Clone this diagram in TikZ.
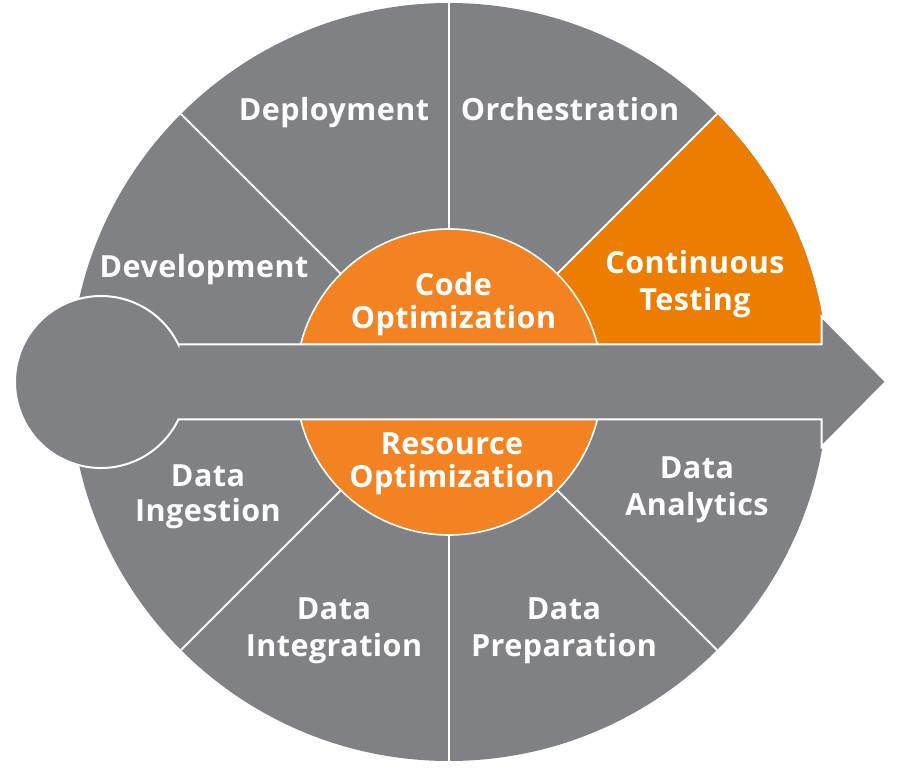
\documentclass[tikz,border=0pt]{standalone}
\usepackage{fontspec}
\setmainfont{Open Sans}[LetterSpace=1.5]
\definecolor{cgray}{HTML}{808184}
\definecolor{corange}{HTML}{F28222}
\definecolor{csector}{HTML}{ED7D00}
\newcommand\lst{\rule[-8pt]{0pt}{31pt}}
\begin{document}
\begin{tikzpicture}[x=1pt,y=1pt,
  lbl/.style={text=white, font=\fontsize{30.5}{#1}\selectfont\bfseries, align=center, inner sep=0pt},
  lbl/.default=36,
  divider/.style={white, line width=2pt},
  outl/.style={draw=white, line width=2pt}]
\useasboundingbox (-449,-394) rectangle (451,382);
% big wheel
\fill[cgray] (0,0) circle[radius=379];
% highlighted sector
\fill[csector] (0,0) -- (0:379) arc[start angle=0,end angle=45,radius=379] -- cycle;
% sector dividers
\foreach \a in {45,90,135,225,270,315} \draw[divider] (0,0) -- (\a:379);
% inner hub
\fill[corange, outl, line width=1.6pt] (0,0) circle[radius=153];
% arrow
\coordinate (tail) at (-348,0);
\fill[cgray, outl] (-270.6,37.5) -- (372.7,37.5) -- (372.7,65.3) -- (437,0.3)
  -- (372.7,-64.7) -- (372.7,-37.5) -- (-270.6,-37.5)
  arc[start angle=-25.85, end angle=-334.15, radius=86] -- cycle;
% labels
\node[lbl] (dep) at (-115,269.5) {\lst Deployment};
\node[lbl] (orc) at (121,269.5) {\lst Orchestration};
\node[lbl] (dev) at (-245,112.5) {\lst Development};
\node[lbl=33] (code) at (4.5,78) {\lst Code\\\lst Optimization};
\node[lbl=37] (test) at (246,98) {\lst Continuous\\\lst Testing};
\node[lbl=33] (res) at (3,-82) {\lst Resource\\\lst Optimization};
\node[lbl=35] (ing) at (-241,-114.7) {\lst Data\\\lst Ingestion};
\node[lbl=37] (int) at (-115,-248) {\lst Data\\\lst Integration};
\node[lbl=37] (prep) at (115,-248) {\lst Data\\\lst Preparation};
\node[lbl=37] (ana) at (248,-108) {\lst Data\\\lst Analytics};
\end{tikzpicture}
\end{document}
